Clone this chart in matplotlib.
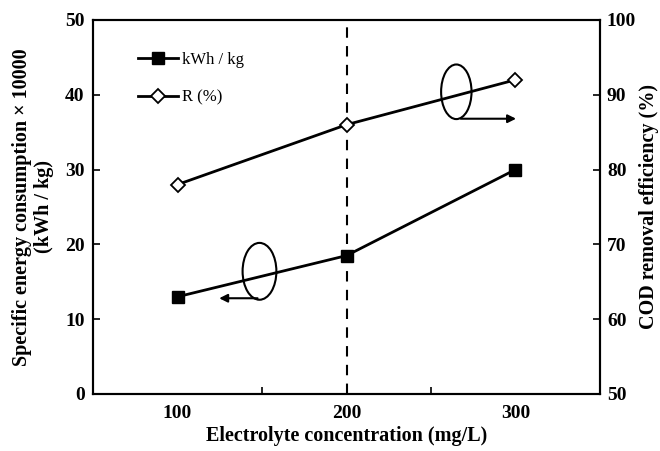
import matplotlib.pyplot as plt
from matplotlib.patches import Ellipse

# Data
conc = ['100', '200', '300']
energy = [13, 18.5, 30]        # kWh / kg (x 10000)
removal = [78, 86, 92]         # COD removal efficiency (%)

plt.rcParams['font.family'] = 'Liberation Serif'

fig = plt.figure(figsize=(6.6, 4.51), dpi=100)
ax = fig.add_axes([0.141, 0.1264, 0.768, 0.8293])
ax2 = ax.twinx()

x = list(range(len(conc)))

l1, = ax.plot(x, energy, color='black', lw=2, marker='s', markersize=9,
              markerfacecolor='black', label='kWh / kg')
l2, = ax2.plot(x, removal, color='black', lw=2, marker='D', markersize=7.5,
               markerfacecolor='white', markeredgewidth=1.3, label='R (%)')

ax.axvline(1, color='black', lw=1.5, ls=(0, (5, 4)))

ax.set_xlim(-0.5, 2.5)
ax.set_ylim(0, 50)
ax2.set_ylim(50, 100)
ax.set_yticks(range(0, 51, 10))
ax2.set_yticks(range(50, 101, 10))

ax.set_xticks(x)
ax.set_xticklabels(conc)
ax.set_xticks([0.5, 1.5], minor=True)
ax.tick_params(axis='x', which='major', length=0, pad=8)
ax.tick_params(axis='x', which='minor', length=5, direction='in', width=1.2)
ax.tick_params(axis='y', direction='in', length=5, width=1.2, pad=6)
ax2.tick_params(axis='y', direction='in', length=5, width=1.2, pad=5)

for a in (ax, ax2):
    for s in a.spines.values():
        s.set_linewidth(1.5)
    for lab in a.get_xticklabels() + a.get_yticklabels():
        lab.set_fontweight('bold')
        lab.set_fontsize(14)

ax.set_xlabel('Electrolyte concentration (mg/L)', fontsize=14.5, fontweight='bold', labelpad=3)
ax.set_ylabel('Specific energy consumption \u00d7 10000\n(kWh / kg)', fontsize=14.5,
              fontweight='bold', labelpad=8, linespacing=1.1)
ax2.set_ylabel('COD removal efficiency (%)', fontsize=14.5, fontweight='bold', labelpad=2)

# ellipse + arrow markers pointing to the matching axis
ax.add_patch(Ellipse((0.485, 16.4), 0.2, 7.6, fill=False, lw=1.5, ec='black'))
ax.annotate('', xy=(0.23, 12.8), xytext=(0.49, 12.8),
            arrowprops=dict(arrowstyle='-|>', color='black', lw=1.5, mutation_scale=12))
ax.add_patch(Ellipse((1.65, 40.4), 0.18, 7.3, fill=False, lw=1.5, ec='black'))
ax.annotate('', xy=(2.02, 36.8), xytext=(1.66, 36.8),
            arrowprops=dict(arrowstyle='-|>', color='black', lw=1.5, mutation_scale=12))

ax.legend([l1, l2], ['kWh / kg', 'R (%)'], loc='upper left', bbox_to_anchor=(0.06, 0.955),
          frameon=False, fontsize=12, handlelength=2.4, labelspacing=1.3, handletextpad=0.2)

fig.savefig('out.png', dpi=100)
